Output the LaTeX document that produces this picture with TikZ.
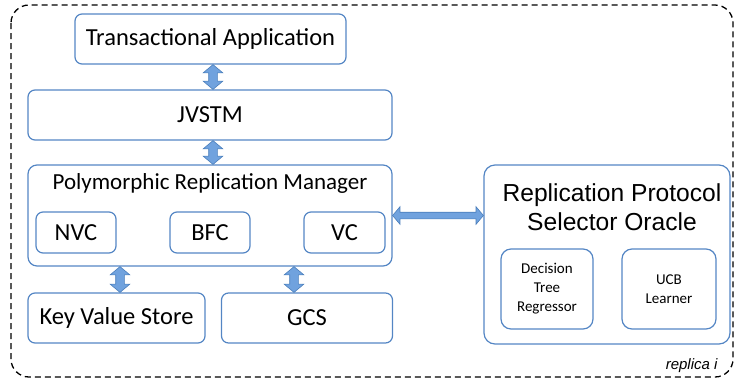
\documentclass[tikz,border=0pt]{standalone}
\usepackage{fontspec}
\setmainfont{Carlito}
\newfontfamily\arialfont{Liberation Sans}
\usetikzlibrary{shapes.arrows,calc}
\definecolor{boxblue}{RGB}{84,134,196}
\definecolor{arrowfill}{RGB}{112,162,222}
\definecolor{arrowline}{RGB}{74,126,187}
\begin{document}
\begin{tikzpicture}[x=1pt,y=-1pt,
  box/.style={draw=boxblue, line width=1.2pt, rounded corners=7pt, inner sep=0pt, align=center},
  bigtext/.style={font=\fontsize{24.5}{29}\selectfont},
  smalltext/.style={font=\fontsize{15}{19}\selectfont},
  blockarrow/.style={to path={let \p1=(\tikztostart), \p2=(\tikztotarget),
      \n1={atan2(\y2-\y1,\x2-\x1)}, \n2={veclen(\x2-\x1,\y2-\y1)} in
      node[double arrow, draw=arrowline, fill=arrowfill, line width=0.6pt,
           inner sep=#1, double arrow head extend=5.5pt, double arrow tip angle=100,
           minimum height=\n2, rotate=\n1, anchor=center]
        at ($(\p1)!0.5!(\p2)$) {}}},
  blockarrow/.default=4pt
]
\useasboundingbox (0,0) rectangle (736,381);
% outer replica boundary
\draw[line width=1.3pt, dash pattern=on 6pt off 4pt, rounded corners=18pt] (11,5) rectangle (733,377);
\node[anchor=east, font=\arialfont\itshape\fontsize{15}{18}\selectfont] (rep) at (721,366) {replica i};

% left stack
\node[box, bigtext, minimum width=271, minimum height=50] (ta) at (210.5,39) {Transactional Application};
\node[box, bigtext, minimum width=364, minimum height=50] (jv) at (210,115) {JVSTM};
\node[box, rounded corners=9pt, minimum width=364, minimum height=101] (prm) at (210,215.5) {};
\node[font=\fontsize{23}{27}\selectfont] (prmt) at (210,183) {Polymorphic Replication Manager};
\node[box, bigtext, minimum width=80, minimum height=41] (nvc) at (76,232.5) {NVC};
\node[box, bigtext, minimum width=80, minimum height=41] (bfc) at (210,232.5) {BFC};
\node[box, bigtext, minimum width=81, minimum height=41] (vc) at (344.5,232.5) {VC};
\node[box, bigtext, minimum width=177, minimum height=50] (kvs) at (116.5,318) {Key Value Store};
\node[box, bigtext, minimum width=171, minimum height=50] (gcs) at (307,318) {GCS};

% oracle
\node[box, rounded corners=11pt, minimum width=246, minimum height=179] (or) at (607,254.5) {};
\node[align=center, font=\arialfont\fontsize{24.6}{29}\selectfont] (ort) at (612,207.5) {Replication Protocol\\Selector Oracle};
\node[box, smalltext, rounded corners=10pt, minimum width=92, minimum height=80] (dtr) at (547,289) {Decision\\Tree\\Regressor};
\node[box, smalltext, rounded corners=10pt, minimum width=94, minimum height=80] (ucb) at (669,289) {UCB\\Learner};

% connectors
\path ([xshift=2.5pt]ta.south) to[blockarrow] ([xshift=3pt]jv.north);
\path ([xshift=3pt]jv.south) to[blockarrow] ([xshift=3pt]jv.south |- prm.north);
\path ([xshift=3.5pt]kvs.north |- prm.south) to[blockarrow] ([xshift=3.5pt]kvs.north);
\path ([xshift=-13pt]gcs.north |- prm.south) to[blockarrow] ([xshift=-13pt]gcs.north);
\path (prm.east) to[blockarrow=3pt] (or.west |- prm.east);
\end{tikzpicture}
\end{document}
